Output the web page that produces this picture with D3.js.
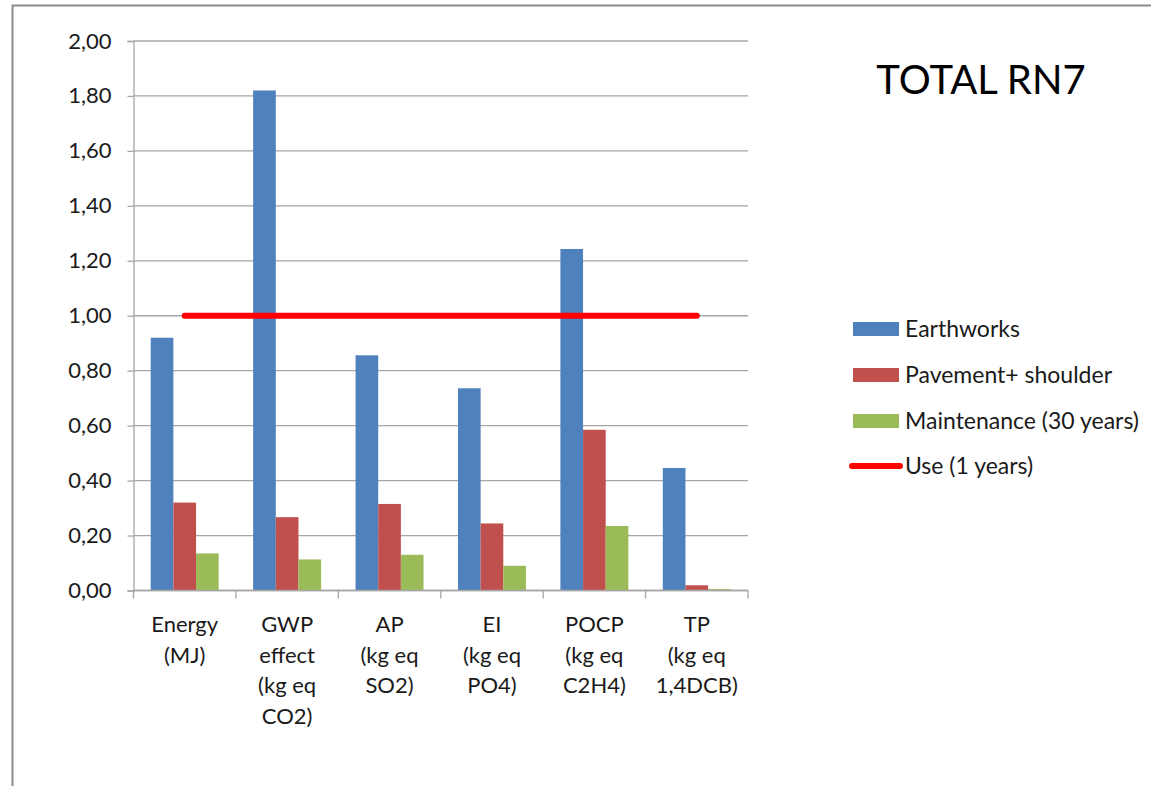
<!DOCTYPE html>
<html>
<head>
<meta charset="utf-8">
<script src="https://cdn.jsdelivr.net/npm/d3@7"></script>
<style>
  html, body { margin: 0; padding: 0; background: #fff; }
  svg { display: block; font-family: Lato, "Open Sans", sans-serif; }
</style>
</head>
<body>
<svg id="chart" width="1151" height="786"></svg>
<script>
// Impact categories (x axis) and their multi-line labels
const categories = ["Energy", "GWP", "AP", "EI", "POCP", "TP"];
const categoryLabels = [
  ["Energy", "(MJ)"],
  ["GWP", "effect", "(kg eq", "CO2)"],
  ["AP", "(kg eq", "SO2)"],
  ["EI", "(kg eq", "PO4)"],
  ["POCP", "(kg eq", "C2H4)"],
  ["TP", "(kg eq", "1,4DCB)"]
];

// Bar series
const seriesNames = ["Earthworks", "Pavement+ shoulder", "Maintenance (30 years)"];
const earthworks  = [0.92, 1.82, 0.856, 0.736, 1.243, 0.446];
const pavement    = [0.32, 0.267, 0.315, 0.244, 0.585, 0.019];
const maintenance = [0.135, 0.113, 0.130, 0.090, 0.235, 0.005];

// Line series
const useName = "Use (1 years)";
const useValues = [1.00, 1.00, 1.00, 1.00, 1.00, 1.00];

// Y axis ticks
const yTicks = [0, 0.2, 0.4, 0.6, 0.8, 1.0, 1.2, 1.4, 1.6, 1.8, 2.0];

const title = "TOTAL RN7";
const colors = ["#4F81BD", "#C0504D", "#9BBB59"];
const useColor = "#FF0000";

const svg = d3.select("#chart");

// Outer chart frame (left and top edges)
svg.append("path")
  .attr("d", "M12.5,786 L12.5,5.5 L1151,5.5")
  .attr("fill", "none")
  .attr("stroke", "#8c8c8c")
  .attr("stroke-width", 2);

const plotLeft = 133.5, plotRight = 748, plotTop = 41, plotBottom = 590.5;

const x0 = d3.scaleBand().domain(categories).range([plotLeft, plotRight]).padding(0);
const x1 = d3.scaleBand().domain(seriesNames).range([0, x0.bandwidth()])
  .paddingInner(0).paddingOuter(0.76);
const y = d3.scaleLinear().domain([0, 2]).range([plotBottom, plotTop]);

const fmt = d3.formatLocale({ decimal: ",", thousands: ".", grouping: [3], currency: ["", "€"] }).format(".2f");

// Horizontal gridlines
svg.append("g")
  .selectAll("line")
  .data(yTicks)
  .join("line")
  .attr("x1", plotLeft).attr("x2", plotRight)
  .attr("y1", d => y(d)).attr("y2", d => y(d))
  .attr("stroke", "#a6a6a6")
  .attr("stroke-width", 1.3);

// Y axis
const yAxis = svg.append("g")
  .attr("transform", `translate(${plotLeft},0)`)
  .call(d3.axisLeft(y).tickValues(yTicks).tickFormat(fmt).tickSize(6).tickPadding(16));
yAxis.select(".domain").attr("stroke", "#a6a6a6").attr("stroke-width", 1.3);
yAxis.selectAll(".tick line").attr("stroke", "#a6a6a6").attr("stroke-width", 1.3);
yAxis.selectAll(".tick text")
  .attr("font-family", "Lato, 'Open Sans', sans-serif")
  .attr("font-size", 22)
  .attr("fill", "#1a1a1a");

// Bars
const seriesData = [earthworks, pavement, maintenance];
const groups = svg.append("g")
  .selectAll("g")
  .data(categories)
  .join("g")
  .attr("transform", c => `translate(${x0(c)},0)`);

groups.selectAll("rect")
  .data((c, i) => seriesNames.map((s, j) => ({ s, j, v: seriesData[j][i] })))
  .join("rect")
  .attr("x", d => x1(d.s))
  .attr("width", x1.bandwidth())
  .attr("y", d => y(d.v))
  .attr("height", d => y(0) - y(d.v))
  .attr("fill", d => colors[d.j]);

// X axis line and category separator ticks
svg.append("line")
  .attr("x1", plotLeft).attr("x2", plotRight)
  .attr("y1", plotBottom).attr("y2", plotBottom)
  .attr("stroke", "#a6a6a6").attr("stroke-width", 1.3);
const boundaries = categories.map(c => x0(c)).concat([x0.range()[1]]);
svg.append("g")
  .selectAll("line")
  .data(boundaries)
  .join("line")
  .attr("x1", d => d).attr("x2", d => d)
  .attr("y1", plotBottom).attr("y2", plotBottom + 8)
  .attr("stroke", "#a6a6a6").attr("stroke-width", 1.3);

// Category labels
const xl = svg.append("g")
  .attr("font-size", 22)
  .attr("fill", "#1a1a1a")
  .attr("text-anchor", "middle");
categories.forEach((c, i) => {
  const t = xl.append("text")
    .attr("x", x0(c) + x0.bandwidth() / 2)
    .attr("y", 632);
  categoryLabels[i].forEach((line, k) => {
    t.append("tspan")
      .attr("x", x0(c) + x0.bandwidth() / 2)
      .attr("dy", k === 0 ? 0 : 30.7)
      .text(line);
  });
});

// Use line
const useLine = d3.line()
  .x((d, i) => x0(categories[i]) + x0.bandwidth() / 2)
  .y(d => y(d));
svg.append("path")
  .datum(useValues)
  .attr("d", useLine)
  .attr("fill", "none")
  .attr("stroke", useColor)
  .attr("stroke-width", 6)
  .attr("stroke-linecap", "round");

// Title
svg.append("text")
  .attr("x", 981)
  .attr("y", 94)
  .attr("text-anchor", "middle")
  .attr("font-size", 40)
  .attr("fill", "#000")
  .text(title);

// Legend
const legendY = [329, 375, 421, 466];
const legend = svg.append("g").attr("font-size", 23).attr("fill", "#1a1a1a");
seriesNames.forEach((s, i) => {
  legend.append("rect")
    .attr("x", 853).attr("y", legendY[i] - 7)
    .attr("width", 46).attr("height", 14)
    .attr("fill", colors[i]);
  legend.append("text")
    .attr("x", 905).attr("y", legendY[i])
    .attr("dy", "0.35em")
    .text(s);
});
legend.append("line")
  .attr("x1", 852).attr("x2", 900)
  .attr("y1", legendY[3]).attr("y2", legendY[3])
  .attr("stroke", useColor).attr("stroke-width", 6)
  .attr("stroke-linecap", "round");
legend.append("text")
  .attr("x", 905).attr("y", legendY[3])
  .attr("dy", "0.35em")
  .text(useName);
</script>
</body>
</html>
